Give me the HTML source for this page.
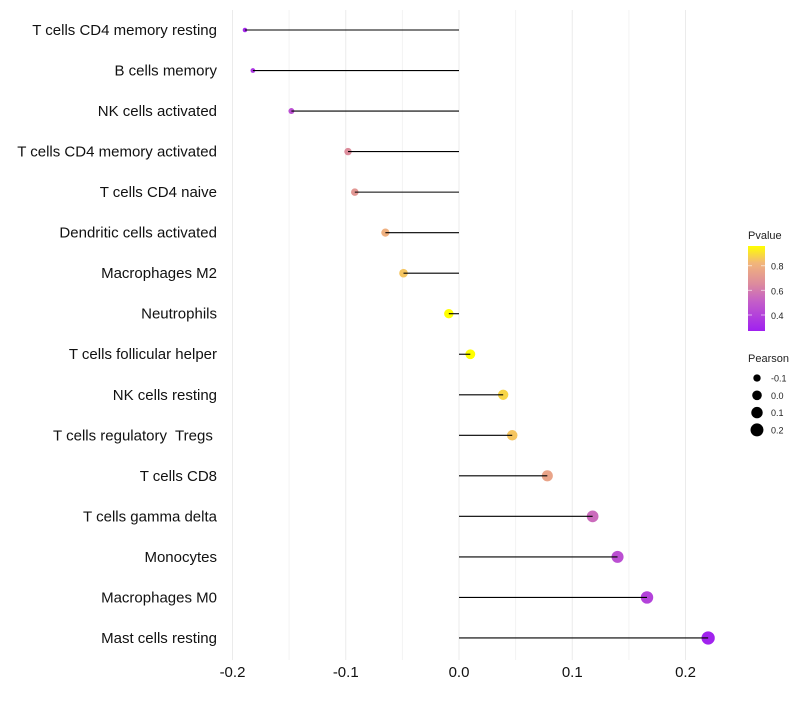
<!DOCTYPE html>
<html><head><meta charset="utf-8"><style>
body{margin:0;background:#fff;font-family:"Liberation Sans",sans-serif}
svg text{font-family:"Liberation Sans",sans-serif;white-space:pre}
</style></head><body>
<svg id="c" width="800" height="700">
<defs><linearGradient id="g" x1="0" y1="1" x2="0" y2="0">
<stop offset="0" stop-color="#A020F0"/><stop offset="0.35" stop-color="#C45FC8"/><stop offset="0.55" stop-color="#DC8A9E"/><stop offset="0.8" stop-color="#F2B67A"/><stop offset="1" stop-color="#FFFF00"/>
</linearGradient></defs>
</svg>
<script>
const categories=["T cells CD4 memory resting","B cells memory","NK cells activated","T cells CD4 memory activated","T cells CD4 naive","Dendritic cells activated","Macrophages M2","Neutrophils","T cells follicular helper","NK cells resting","T cells regulatory  Tregs ","T cells CD8","T cells gamma delta","Monocytes","Macrophages M0","Mast cells resting"];
const pearson=[-0.189,-0.182,-0.148,-0.098,-0.092,-0.065,-0.049,-0.009,0.010,0.039,0.047,0.078,0.118,0.140,0.166,0.220];
const pvalue=[0.30,0.35,0.45,0.66,0.70,0.80,0.85,0.96,0.96,0.88,0.85,0.75,0.55,0.45,0.40,0.28];
const xTicks=[-0.2,-0.1,0.0,0.1,0.2];
const gridMinor=[-0.15,-0.05,0.05,0.15];
const legendP=[0.4,0.6,0.8];
const legendSize=[-0.1,0.0,0.1,0.2];
const NS="http://www.w3.org/2000/svg",svg=document.getElementById('c');
const X=v=>459+v*1132.5, Y=i=>30+i*40.53;
function mk(t,a,p){const e=document.createElementNS(NS,t);for(const k in a)e.setAttribute(k,a[k]);(p||svg).appendChild(e);return e;}
const R=v=>Math.sqrt(Math.max(2.5,5+(v+0.19)*95));
const stops=[[0,[160,32,240]],[0.35,[196,95,200]],[0.55,[220,138,158]],[0.8,[242,182,122]],[1,[255,255,0]]];
function col(p){let t=(p-0.27)/(0.96-0.27);t=Math.max(0,Math.min(1,t));for(let i=1;i<stops.length;i++){if(t<=stops[i][0]){const a=stops[i-1],b=stops[i],f=(t-a[0])/(b[0]-a[0]);return 'rgb('+a[1].map((c,j)=>Math.round(c+(b[1][j]-c)*f)).join(',')+')';}}return 'rgb(255,255,0)';}
gridMinor.forEach(v=>{const l=mk('line',{x1:X(v),x2:X(v),y1:10,y2:660,stroke:'#f3f3f3','stroke-width':1});

});
xTicks.forEach(v=>{const l=mk('line',{x1:X(v),x2:X(v),y1:10,y2:660,stroke:'#ebebeb','stroke-width':1});


const t=mk('text',{x:X(v),y:677,'text-anchor':'middle','font-size':15,fill:'#111'});t.textContent=v.toFixed(1);

});
categories.forEach((c,i)=>{const y=Y(i);
const t=mk('text',{x:217,y:y+5,'text-anchor':'end','font-size':15,fill:'#111'});t.textContent=c;


const d=mk('circle',{cx:X(pearson[i]),cy:y,r:R(pearson[i]),fill:col(pvalue[i])});


const l=mk('line',{x1:X(0),x2:X(pearson[i]),y1:y,y2:y,stroke:'#000','stroke-width':1.1});

});
const lt=mk('text',{x:748,y:239,'font-size':11,fill:'#222'});lt.textContent='Pvalue';


const cb=mk('rect',{x:748,y:246,width:17,height:85,fill:'url(#g)'});


const PY=p=>331-(p-0.27)/(0.96-0.27)*85;
legendP.forEach(p=>{mk('line',{x1:748,x2:752,y1:PY(p),y2:PY(p),stroke:'#fff','stroke-opacity':0.6});mk('line',{x1:761,x2:765,y1:PY(p),y2:PY(p),stroke:'#fff','stroke-opacity':0.6});
const t=mk('text',{x:771,y:PY(p)+4,'font-size':9,fill:'#222'});t.textContent=p.toFixed(1);

});
const st=mk('text',{x:748,y:362,'font-size':11,fill:'#222'});st.textContent='Pearson';


legendSize.forEach((v,i)=>{const y=378+i*17.3;const d=mk('circle',{cx:757,cy:y,r:R(v),fill:'#000'});


const t=mk('text',{x:771,y:y+3.5,'font-size':9,fill:'#222'});t.textContent=v.toFixed(1);

});
</script>
</body></html>
